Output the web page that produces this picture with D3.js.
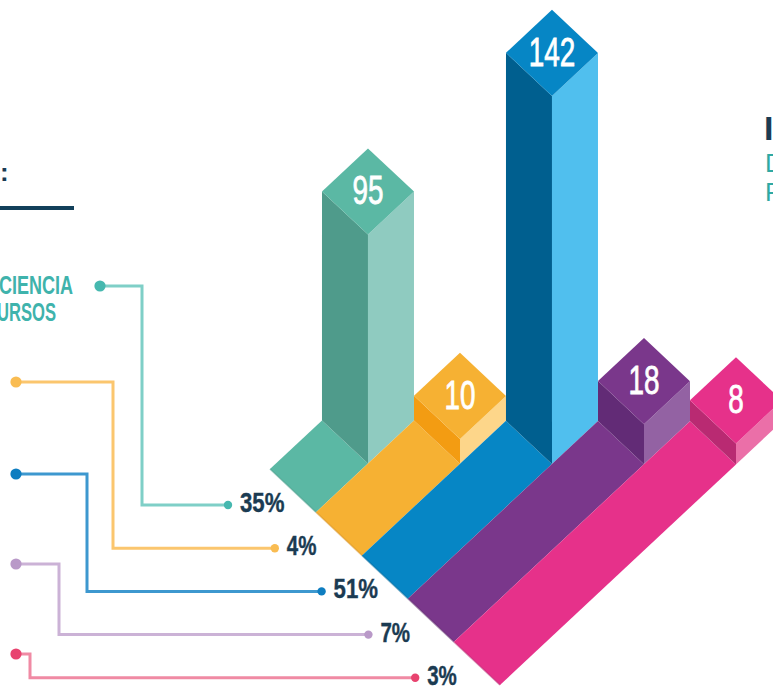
<!DOCTYPE html>
<html><head><meta charset="utf-8">
<script src="https://cdn.jsdelivr.net/npm/d3@7"></script>
<style>
html,body{margin:0;padding:0;background:#fff;overflow:hidden}
svg{display:block}
text{font-family:"Liberation Sans Narrow","Liberation Sans",sans-serif}
</style></head><body>
<script>
// ---- data
const categories = ["a","b","c","d","e"];
const counts = [95,10,142,18,8];
const percents = ["35%","4%","51%","7%","3%"];
const countLabels = counts.map(String);

// ---- palette
const topFill   = ["#5BB8A4","#F6B133","#0686C5","#7A378B","#E6318A"];
const leftFill  = ["#4F9B8B","#F39C12","#005F8F","#622B76","#B92A72"];
const rightFill = ["#8FCBC0","#FDD68A","#50BFEE","#9362A3","#EB6FA8"];
const edgeFill  = ["#4A9C8A","#D9952A","#05699C","#5F2A6D","#B92A72"];
const lineFill  = ["#7FCFC7","#FBC66E","#3D98CF","#CBB2D6","#F08AA4"];
const dotFill   = ["#46B8AF","#F9BC52","#0E7DC0","#B999C8","#E8436F"];

// ---- leader layout
const leaderStartX = [100,16,16,16,16];
const leaderStartY = [286,382,474,564,654];
const leaderElbowX = [142,113,87,59,30];

const W=773,H=686;
const svg=d3.select("body").append("svg").attr("width",W).attr("height",H).attr("viewBox",`0 0 ${W} ${H}`);

// isometric projection: a runs along the base edge, b runs into the depth
const band=d3.scaleBand().domain(categories).range([0,categories.length]);
const isoX=(a,b)=>270+46*a+46*b;
const isoY=(a,b)=>469+43.2*a-43*b;
const iso=(a,b)=>[isoX(a,b),isoY(a,b)];
// the printed columns follow an uneven height scale
const height=d3.scaleLinear().domain([0,8,18,95,142]).range([0,21,40,229,368]);
const poly=pts=>"M"+pts.map(p=>p.join(",")).join("L")+"Z";

const bars=svg.append("g").selectAll("g").data(categories).join("g");
bars.each(function(c,i){
  const g=d3.select(this);
  const a0=band(c), a1=a0+band.bandwidth();
  const d0=i+1.13, d1=d0+1;
  const h=height(counts[i]);
  const up=p=>[p[0],p[1]-h];
  // floor strip
  g.append("path").attr("d",poly([iso(a0,0),iso(a1,0),iso(a1,d0),iso(a0,d0)])).attr("fill",topFill[i]);
  // soft shaded front edge of the strip
  g.append("path").attr("d",line2(iso(a0,0),iso(a1,0))).attr("stroke",edgeFill[i]).attr("stroke-width",1.6).attr("stroke-opacity",.55).attr("fill","none");
  // left and right faces
  g.append("path").attr("d",poly([iso(a0,d0),iso(a1,d0),up(iso(a1,d0)),up(iso(a0,d0))])).attr("fill",leftFill[i]);
  g.append("path").attr("d",poly([iso(a1,d0),iso(a1,d1),up(iso(a1,d1)),up(iso(a1,d0))])).attr("fill",rightFill[i]);
  // top
  g.append("path").attr("d",poly([up(iso(a0,d0)),up(iso(a1,d0)),up(iso(a1,d1)),up(iso(a0,d1))])).attr("fill",topFill[i]);
  // value
  const cx=isoX(a0,d0)+46, cy=isoY(a0,d0)-h;
  g.append("text").attr("x",cx).attr("y",cy+13).attr("text-anchor","middle")
    .attr("font-size",40).attr("fill","#fff").attr("stroke","#fff").attr("stroke-width",.8)
    .attr("textLength",countLabels[i].length*15.5).attr("lengthAdjust","spacingAndGlyphs")
    .text(countLabels[i]);
});
function line2(p,q){return "M"+p.join(",")+"L"+q.join(",");}

// ---- leaders
const line=d3.line();
const leaders=svg.append("g").selectAll("g").data(categories).join("g");
leaders.each(function(c,i){
  const g=d3.select(this);
  const ex=228+46.8*band(c), ey=isoY(band(c),0)+36;
  const pts=[[leaderStartX[i],leaderStartY[i]],[leaderElbowX[i],leaderStartY[i]],[leaderElbowX[i],ey],[ex,ey]];
  g.append("path").attr("d",line(pts)).attr("fill","none").attr("stroke",lineFill[i]).attr("stroke-width",3);
  g.append("circle").attr("cx",pts[0][0]).attr("cy",pts[0][1]).attr("r",5.6).attr("fill",dotFill[i]);
  g.append("circle").attr("cx",ex).attr("cy",ey).attr("r",4.2).attr("fill",dotFill[i]);
  g.append("text").attr("x",ex+12).attr("y",ey+7).attr("font-size",27).attr("font-weight",700)
    .attr("fill","#1B3B52").attr("stroke","#1B3B52").attr("stroke-width",.4)
    .attr("textLength",percents[i].length*14.8).attr("lengthAdjust","spacingAndGlyphs")
    .text(percents[i]);
});

// ---- clipped page text at both edges
svg.append("text").attr("x",0).attr("y",181).attr("font-size",26).attr("font-weight",700).attr("fill","#1B3B52").text(":");
svg.append("rect").attr("x",0).attr("y",206).attr("width",74).attr("height",4).attr("fill","#12405A");
svg.append("text").attr("x",-1).attr("y",294).attr("font-size",25).attr("font-weight",700).attr("fill","#3FB3AC")
  .attr("textLength",74).attr("lengthAdjust","spacingAndGlyphs").text("CIENCIA");
svg.append("text").attr("x",-3).attr("y",321).attr("font-size",25).attr("font-weight",700).attr("fill","#3FB3AC")
  .attr("textLength",59).attr("lengthAdjust","spacingAndGlyphs").text("URSOS");
svg.append("text").attr("x",764).attr("y",140).attr("font-size",34).attr("font-weight",700).attr("fill","#1B3B52").text("I");
svg.append("text").attr("x",765).attr("y",172).attr("font-size",26).attr("fill","#2FA9A3").text("D");
svg.append("text").attr("x",765).attr("y",201).attr("font-size",26).attr("fill","#2FA9A3").text("P");
</script>
</body></html>
